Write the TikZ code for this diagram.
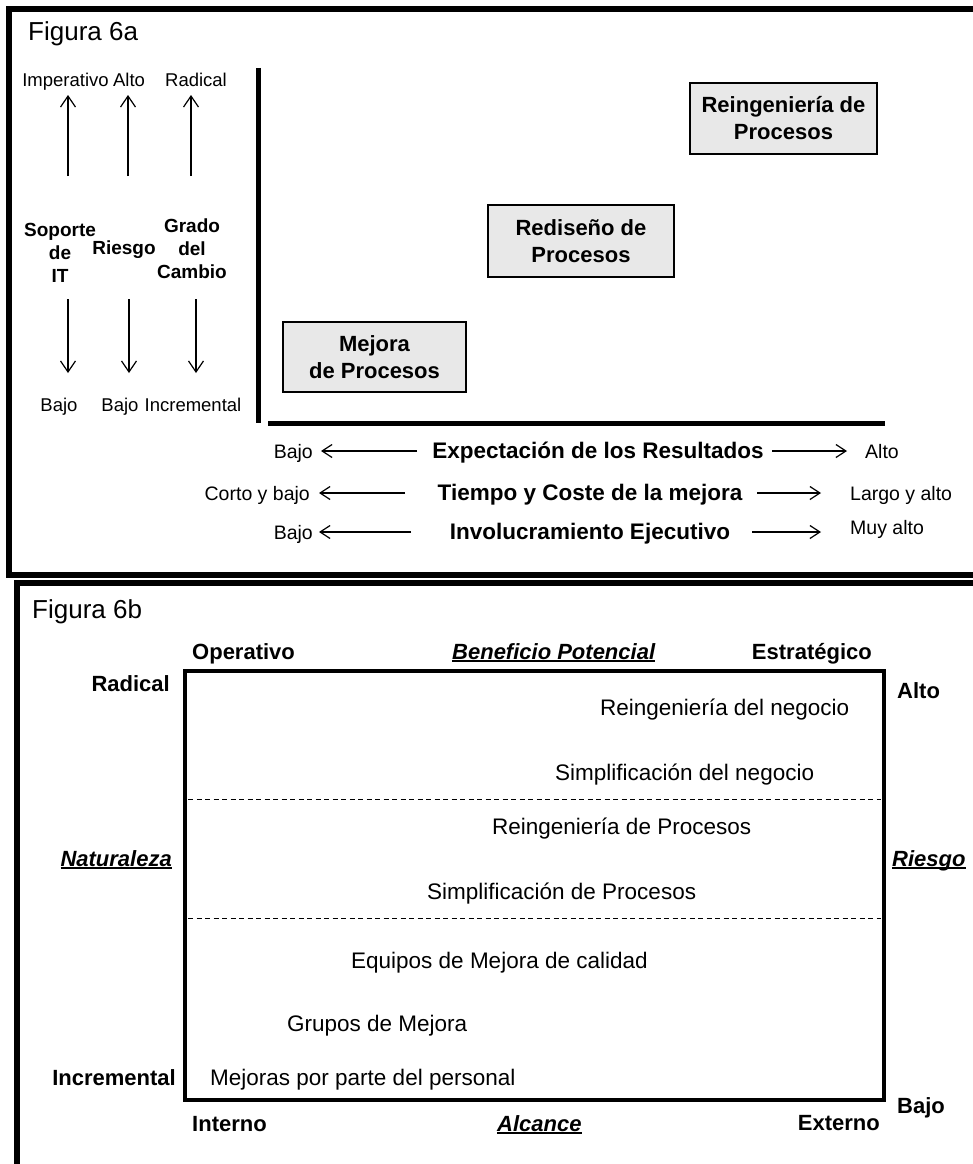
\documentclass[tikz,border=0pt]{standalone}
\usepackage{fontspec}
\setmainfont{Liberation Sans}
\usetikzlibrary{arrows.meta}
% bold-italic heading with a rule a little below the baseline
\newcommand\ulbi[1]{\setbox0\hbox{\bfseries\itshape #1}\rlap{\rule[-3pt]{\wd0}{1.6pt}}\box0}
\begin{document}
\begin{tikzpicture}[x=1pt,y=-1pt,
  frame/.style={line width=6pt,line join=miter},
  axis/.style={line width=5pt},
  fig/.style={font=\fontsize{26}{30}\selectfont,inner sep=0,anchor=base west},
  lbl/.style={font=\fontsize{18.5}{22}\selectfont,inner sep=0,anchor=base},
  bl/.style={font=\bfseries\fontsize{19}{23}\selectfont,inner sep=0,align=center,anchor=north},
  procbox/.style={draw,line width=1.3pt,fill=gray!18,font=\bfseries\fontsize{22}{27}\selectfont,
    align=center,inner sep=0},
  varrow/.style={line width=1.2pt,-{Straight Barb[length=11pt,width=15pt]}},
  harrow/.style={line width=1.2pt,-{Straight Barb[length=10pt,width=13pt]}},
  axtitle/.style={font=\bfseries\fontsize{22.5}{27}\selectfont,inner sep=0,anchor=base},
  axend/.style={font=\fontsize{19.5}{23}\selectfont,inner sep=0},
  hd/.style={font=\bfseries\fontsize{22}{26}\selectfont,inner sep=0},
  item/.style={font=\fontsize{22.5}{27}\selectfont,inner sep=0,anchor=base west},
  div/.style={line width=1pt,dash pattern=on 5pt off 3.5pt}]
\useasboundingbox (0,0) rectangle (973,1164);

% ---------- panel frames ----------
\draw[frame] (990,9) -- (9,9) -- (9,574.5) -- (990,574.5);
\draw[frame] (17,1180) -- (17,583) -- (990,583);

% ================= Figura 6a =================
\node[fig] (t6a) at (28,41) {Figura 6a};

% left scales
\node[lbl] (imp) at (65.5,86) {Imperativo};
\node[lbl] (alto1) at (129,86) {Alto};
\node[lbl] (rad1) at (196,86) {Radical};

\coordinate (u1a) at (68,176);  \coordinate (u1b) at (68,95);
\coordinate (u2a) at (128,176); \coordinate (u2b) at (128,95);
\coordinate (u3a) at (191,176); \coordinate (u3b) at (191,95);
\draw[varrow] (u1a) -- (u1b);
\draw[varrow] (u2a) -- (u2b);
\draw[varrow] (u3a) -- (u3b);

\node[bl] (sop) at (60,223) {Soporte\\de\\IT};
\node[bl] (rie) at (124,241) {Riesgo};
\node[bl] (gra) at (192,219) {Grado\\del\\Cambio};

\coordinate (d1a) at (68,299);  \coordinate (d1b) at (68,373);
\coordinate (d2a) at (129,299); \coordinate (d2b) at (129,373);
\coordinate (d3a) at (196,299); \coordinate (d3b) at (196,373);
\draw[varrow] (d1a) -- (d1b);
\draw[varrow] (d2a) -- (d2b);
\draw[varrow] (d3a) -- (d3b);

\node[lbl] (bj1) at (59,411) {Bajo};
\node[lbl] (bj2) at (120,411) {Bajo};
\node[lbl] (inc1) at (193,411) {Incremental};

% axes
\coordinate (vtop) at (258,68);  \coordinate (vbot) at (258,423);
\coordinate (hl) at (268,423);   \coordinate (hr) at (885,423);
\draw[axis] (vtop) -- (vbot);
\draw[axis] (hl) -- (hr);

% improvement approaches
\node[procbox,minimum width=183pt,minimum height=70pt] (mej) at (374.5,357) {Mejora\\de Procesos};
\node[procbox,minimum width=186pt,minimum height=72pt] (red) at (581,241) {Redise\~no de\\Procesos};
\node[procbox,minimum width=187pt,minimum height=71pt] (rei) at (783.5,118.5) {Reingenier\'ia de\\Procesos};

% lower scales
\node[axend,anchor=base east] (r1l) at (313,458) {Bajo};
\node[axtitle] (r1t) at (598,458) {Expectaci\'on de los Resultados};
\node[axend,anchor=base west] (r1r) at (865,458) {Alto};
\coordinate (r1a) at (417,451); \coordinate (r1b) at (321,451);
\coordinate (r1c) at (772,451); \coordinate (r1d) at (847,451);
\draw[harrow] (r1a) -- (r1b);
\draw[harrow] (r1c) -- (r1d);

\node[axend,anchor=base east] (r2l) at (310,500) {Corto y bajo};
\node[axtitle] (r2t) at (590,500) {Tiempo y Coste de la mejora};
\node[axend,anchor=base west] (r2r) at (850,500) {Largo y alto};
\coordinate (r2a) at (405,493); \coordinate (r2b) at (319,493);
\coordinate (r2c) at (757,493); \coordinate (r2d) at (821,493);
\draw[harrow] (r2a) -- (r2b);
\draw[harrow] (r2c) -- (r2d);

\node[axend,anchor=base east] (r3l) at (313,539) {Bajo};
\node[axtitle] (r3t) at (590,539) {Involucramiento Ejecutivo};
\node[axend,anchor=base west] (r3r) at (850,534) {Muy alto};
\coordinate (r3a) at (411,532); \coordinate (r3b) at (319,532);
\coordinate (r3c) at (752,532); \coordinate (r3d) at (821,532);
\draw[harrow] (r3a) -- (r3b);
\draw[harrow] (r3c) -- (r3d);

% ================= Figura 6b =================
\node[fig] (t6b) at (32,618) {Figura 6b};

\draw[line width=4.5pt] (185,671) rectangle (884,1100);
\coordinate (s1l) at (188,799); \coordinate (s1r) at (881,799);
\coordinate (s2l) at (188,918); \coordinate (s2r) at (881,918);
\draw[div] (s1l) -- (s1r);
\draw[div] (s2l) -- (s2r);

\node[hd,anchor=base west] (ope) at (192,659) {Operativo};
\node[hd,anchor=base west] (ben) at (452,659) {\ulbi{Beneficio Potencial}};
\node[hd,anchor=base east] (est) at (872,659) {Estrat\'egico};
\node[hd,anchor=base east] (radb) at (170,691) {Radical};
\node[hd,anchor=base west] (altb) at (897,698) {Alto};
\node[hd,anchor=base east] (nat) at (172,866) {\ulbi{Naturaleza}};
\node[hd,anchor=base west] (rsg) at (892,866) {\ulbi{Riesgo}};
\node[hd,anchor=base east] (incb) at (176,1085) {Incremental};
\node[hd,anchor=base west] (bajb) at (897,1113) {Bajo};
\node[hd,anchor=base west] (int) at (192,1131) {Interno};
\node[hd,anchor=base west] (alc) at (497,1131) {\ulbi{Alcance}};
\node[hd,anchor=base east] (ext) at (880,1130) {Externo};

\node[item] (i1) at (600,715) {Reingenier\'ia del negocio};
\node[item] (i2) at (555,780) {Simplificaci\'on del negocio};
\node[item] (i3) at (492,834) {Reingenier\'ia de Procesos};
\node[item] (i4) at (427,899) {Simplificaci\'on de Procesos};
\node[item] (i5) at (351,968) {Equipos de Mejora de calidad};
\node[item] (i6) at (287,1031) {Grupos de Mejora};
\node[item] (i7) at (210,1085) {Mejoras por parte del personal};
\end{tikzpicture}
\end{document}
